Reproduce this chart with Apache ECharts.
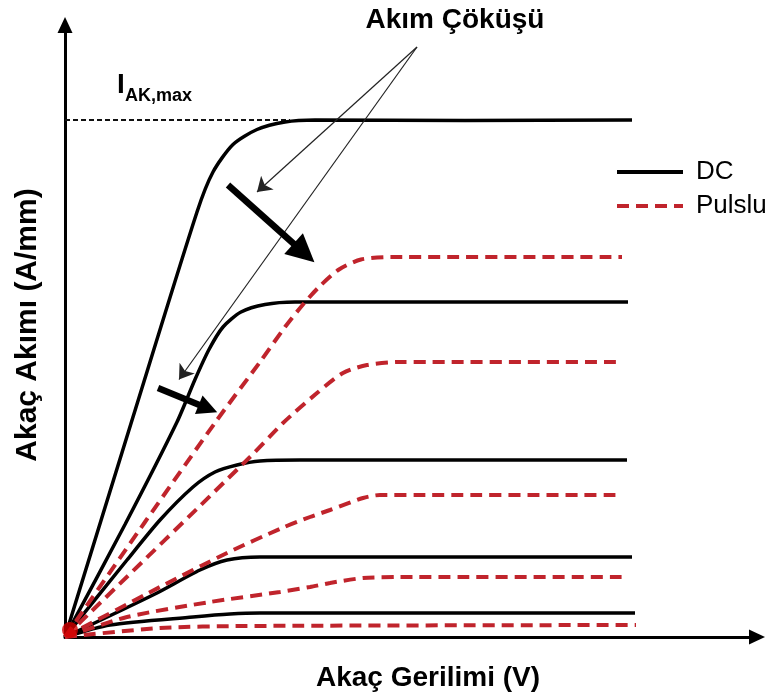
<!DOCTYPE html>
<html>
<head>
<meta charset="utf-8">
<script src="https://cdn.jsdelivr.net/npm/echarts@6/dist/echarts.min.js"></script>
<style>
html,body{margin:0;padding:0;background:#fff;}
#chart{width:770px;height:698px;}
</style>
</head>
<body>
<div id="chart"></div>
<script>
// Drain voltage (V) vs drain current (A/mm)
const dc1 = [[0,0],[3.4,4.4],[6.6,8.5],[7.4,9.3],[8.4,9.85],[9.6,10.15],[11,10.3],[12.5,10.34],[20,10.33],[28.35,10.34]];
const dc2 = [[0,0],[3,2.25],[5.6,4.3],[6.5,5.15],[7.2,5.75],[7.9,6.2],[8.8,6.5],[10,6.65],[11.5,6.7],[28.15,6.7]];
const dc3 = [[0,0],[3.1,1.54],[4.75,2.34],[6.4,3.0],[7.5,3.3],[8.6,3.44],[9.75,3.52],[11.75,3.54],[28.1,3.54]];
const dc4 = [[0,0],[4.5,0.86],[6.75,1.34],[8.1,1.54],[9.75,1.6],[12,1.6],[28.35,1.6]];
const dc5 = [[0,0],[2.25,0.24],[6.4,0.4],[8.25,0.46],[9.75,0.48],[28.5,0.48]];

const p1 = [[0,0],[4,2.3],[7.6,4.34],[9.75,5.5],[11,6.2],[11.9,6.65],[12.7,7.0],[13.7,7.35],[14.8,7.55],[16.3,7.6],[27.85,7.6]];
const p2 = [[0,0],[9.25,3.6],[10.9,4.28],[12.6,4.88],[13.9,5.28],[15.1,5.44],[16.75,5.5],[27.85,5.5]];
const p3 = [[0,0],[4.75,1.0],[8.1,1.68],[10.85,2.18],[12.25,2.4],[13.25,2.54],[14.9,2.78],[15.75,2.84],[17.5,2.84],[27.85,2.84]];
const p4 = [[0,0],[3.1,0.4],[7.25,0.7],[10.75,0.9],[12.25,1.0],[13.25,1.08],[14.9,1.18],[16.75,1.2],[27.85,1.2]];
const p5 = [[0,0],[4.75,0.18],[9,0.22],[28.55,0.24]];

const iakMax = 10.34;
const iakMaxLine = [[0, iakMax],[11.25, iakMax]];

// annotation arrows (data coordinates)
const thinArrows = [
  [[17.6,11.8],[9.6,8.9]],
  [[17.6,11.8],[5.7,5.15]]
];
const thickArrowBig = [[8.15,9.04],[11.95,7.68]];
const thickArrowSmall = [[4.65,4.98],[7.15,4.57]];

const legendNames = ['DC','Pulslu'];
const FONT = '"Liberation Sans", Arial, Helvetica, sans-serif';
const RED = '#c0242c';

const chart = echarts.init(document.getElementById('chart'), null, {renderer:'canvas'});

function dcSeries(d){
  return {name:'DC', type:'line', data:d, showSymbol:false, symbol:'none', smooth:0.25,
    lineStyle:{color:'#000', width:3.5}, itemStyle:{color:'#000'}, z:3};
}
function pSeries(d){
  return {name:'Pulslu', type:'line', data:d, showSymbol:false, symbol:'none', smooth:0.25,
    lineStyle:{color:RED, width:4, type:[12,7]}, itemStyle:{color:RED}, z:4};
}
function thickSeries(c, size){
  return {name:'thick', type:'lines', coordinateSystem:'cartesian2d', z:7,
    data:[{coords:c}], symbol:['none','triangle'], symbolSize:size,
    lineStyle:{color:'#000', width:6.5, curveness:0, opacity:1}};
}

const option = {
  animation:false,
  backgroundColor:'#fff',
  grid:{left:65, top:25, right:13, bottom:61, containLabel:false},
  xAxis:{
    type:'value', min:0, max:34.6,
    axisLine:{show:true, onZero:false, symbol:['none','triangle'], symbolSize:[15,16], lineStyle:{color:'#000', width:3}},
    axisTick:{show:false}, axisLabel:{show:false}, splitLine:{show:false},
    name:'Akaç Gerilimi (V)', nameLocation:'middle', nameGap:27,
    nameTextStyle:{fontFamily:FONT, fontWeight:'bold', fontSize:28, color:'#000', padding:[0,0,0,34]}
  },
  yAxis:{
    type:'value', min:0, max:12.24,
    axisLine:{show:true, onZero:false, symbol:['none','triangle'], symbolSize:[15,16], lineStyle:{color:'#000', width:3}},
    axisTick:{show:false}, axisLabel:{show:false}, splitLine:{show:false},
    name:'Akaç Akımı (A/mm)', nameLocation:'middle', nameGap:22,
    nameTextStyle:{fontFamily:FONT, fontWeight:'bold', fontSize:30, color:'#000', padding:[0,0,0,12]}
  },
  legend:{
    data:legendNames, orient:'vertical', left:610, top:154,
    itemWidth:66, itemHeight:14, itemGap:8,
    itemStyle:{opacity:0},
    lineStyle:{width:4},
    textStyle:{fontFamily:FONT, fontSize:26, color:'#000', padding:[0,0,0,8]},
    selectedMode:false
  },
  series:[
    {name:'IAKmax', type:'line', data:iakMaxLine, showSymbol:false, symbol:'none',
      lineStyle:{color:'#111', width:2, type:[5,3]}, z:2},
    dcSeries(dc1), dcSeries(dc2), dcSeries(dc3), dcSeries(dc4), dcSeries(dc5),
    pSeries(p1), pSeries(p2), pSeries(p3), pSeries(p4), pSeries(p5),
    {name:'origin', type:'scatter', data:[[0.25,0.14]], symbolSize:16, itemStyle:{color:'#d40000'}, z:6, clip:false},
    {name:'thin', type:'lines', coordinateSystem:'cartesian2d', z:7,
      data:thinArrows.map(c=>({coords:c})),
      symbol:['none','arrow'], symbolSize:14,
      lineStyle:{color:'#222', width:1.2, curveness:0, opacity:1}},
    thickSeries(thickArrowBig, 28),
    thickSeries(thickArrowSmall, 20)
  ],
  graphic:[
    {type:'text', x:455, y:20, style:{text:'Akım Çöküşü', font:'bold 28px '+FONT, fill:'#000', align:'center', verticalAlign:'middle'}},
    {type:'text', x:117, y:85, style:{text:'I', font:'bold 28px '+FONT, fill:'#000', align:'left', verticalAlign:'middle'}},
    {type:'text', x:125, y:96, style:{text:'AK,max', font:'bold 18px '+FONT, fill:'#000', align:'left', verticalAlign:'middle'}}
  ]
};
chart.setOption(option);
</script>
</body>
</html>
